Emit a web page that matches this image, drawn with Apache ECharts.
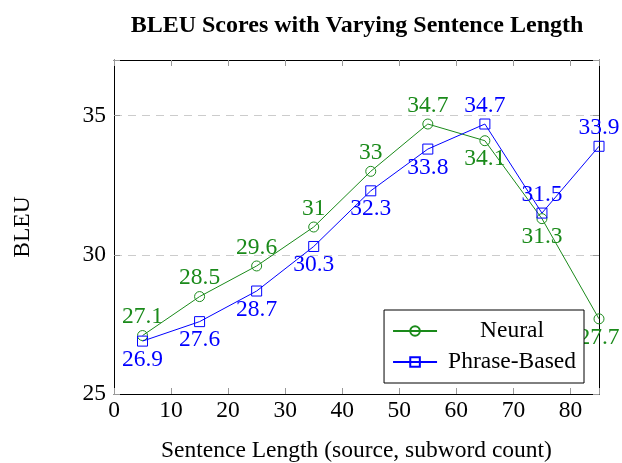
<!DOCTYPE html>
<html><head><meta charset="utf-8">
<script src="https://cdn.jsdelivr.net/npm/echarts@6/dist/echarts.min.js"></script>
<style>html,body{margin:0;padding:0;background:#fff}#c{width:622px;height:463px}</style>
</head><body><div id="c"></div>
<script>
const lengths = [5, 15, 25, 35, 45, 55, 65, 75, 85];
const neural = [27.1, 28.5, 29.6, 31, 33, 34.7, 34.1, 31.3, 27.7];
const phrase = [26.9, 27.6, 28.7, 30.3, 32.3, 33.8, 34.7, 31.5, 33.9];
const neuralLabelPos = ['top','top','top','top','top','top','bottom','bottom','bottom'];
const phraseLabelPos = ['bottom','bottom','bottom','bottom','bottom','bottom','top','top','top'];
const xTicks = [0, 10, 20, 30, 40, 50, 60, 70, 80];
const yTicks = [25, 30, 35];

const GREEN = '#1a8a1a', BLUE = '#0000ff';
const FONT = '"Liberation Serif", "DejaVu Serif", serif';
const FS = 23.5;

function mk(vals, pos) {
  return lengths.map((x, i) => ({
    value: [x, vals[i]],
    label: { position: pos[i] }
  }));
}

const chart = echarts.init(document.getElementById('c'), null, {renderer: 'canvas'});
chart.setOption({
  animation: false,
  textStyle: { fontFamily: FONT },
  title: {
    text: 'BLEU Scores with Varying Sentence Length',
    left: 352, top: 9, textAlign: 'center',
    textStyle: { fontFamily: FONT, fontWeight: 'bold', fontSize: 24, color: '#000' }
  },
  grid: { left: 114, top: 60, right: 23, bottom: 69, containLabel: false, outerBoundsMode: 'none' },
  legend: {
    orient: 'vertical',
    right: 38, bottom: 80,
    z: 20,
    backgroundColor: '#fff',
    borderColor: '#000', borderWidth: 1, borderRadius: 0,
    padding: [9, 8, 9, 8],
    itemGap: 7,
    itemWidth: 44, itemHeight: 12,
    formatter: name => '{a|' + name + '}',
    textStyle: { fontFamily: FONT, fontSize: FS, color: '#000',
      rich: { a: { fontFamily: FONT, fontSize: FS, color: '#000', width: 140, align: 'center' } } },
    data: ['Neural', 'Phrase-Based']
  },
  xAxis: [{
    type: 'value', min: 0, max: 85, interval: 10,
    name: 'Sentence Length (source, subword count)',
    nameLocation: 'middle', nameGap: 45,
    nameTextStyle: { fontFamily: FONT, fontSize: FS, color: '#000' },
    axisLine: { onZero: false, lineStyle: { color: '#000', width: 1 } },
    axisTick: { inside: true, length: 6, lineStyle: { color: '#999' } },
    axisLabel: { fontFamily: FONT, fontSize: FS, color: '#000', margin: 5,
      formatter: v => xTicks.includes(v) ? String(v) : '' },
    splitLine: { show: false }
  }, {
    type: 'value', min: 0, max: 85, interval: 10, position: 'top',
    axisLine: { onZero: false, lineStyle: { color: '#000', width: 1 } },
    axisTick: { inside: true, length: 6, lineStyle: { color: '#999' } },
    axisLabel: { show: false }, splitLine: { show: false }
  }],
  yAxis: [{
    type: 'value', min: 25, max: 37, interval: 5,
    name: 'BLEU', nameLocation: 'middle', nameGap: 79, nameRotate: 90,
    nameTextStyle: { fontFamily: FONT, fontSize: FS, color: '#000' },
    axisLine: { onZero: false, show: true, lineStyle: { color: '#000', width: 1 } },
    axisTick: { show: true, inside: true, length: 6, lineStyle: { color: '#999' } },
    axisLabel: { fontFamily: FONT, fontSize: FS, color: '#000', margin: 8,
      formatter: v => yTicks.includes(v) ? String(v) : '' },
    splitLine: { show: true, lineStyle: { color: '#cccccc', type: [8, 6], width: 1.2 } }
  }, {
    type: 'value', min: 25, max: 37, interval: 5, position: 'right',
    axisLine: { onZero: false, show: true, lineStyle: { color: '#000', width: 1 } },
    axisTick: { show: true, inside: true, length: 6, lineStyle: { color: '#999' } },
    axisLabel: { show: false }, splitLine: { show: false }
  }],
  series: [{
    name: 'Neural', type: 'line',
    data: mk(neural, neuralLabelPos),
    symbol: 'circle', symbolSize: 10,
    itemStyle: { color: 'rgba(255,255,255,0)', borderColor: GREEN, borderWidth: 1 },
    lineStyle: { color: GREEN, width: 1 },
    label: { show: true, distance: 1, fontFamily: FONT, fontSize: FS, color: GREEN,
      formatter: p => String(p.value[1]) },
    z: 3
  }, {
    name: 'Phrase-Based', type: 'line',
    data: mk(phrase, phraseLabelPos),
    symbol: 'rect', symbolSize: 10,
    itemStyle: { color: 'rgba(255,255,255,0)', borderColor: BLUE, borderWidth: 1 },
    lineStyle: { color: BLUE, width: 1 },
    label: { show: true, distance: 1, fontFamily: FONT, fontSize: FS, color: BLUE,
      formatter: p => String(p.value[1]) },
    z: 4
  }]
});
</script></body></html>
